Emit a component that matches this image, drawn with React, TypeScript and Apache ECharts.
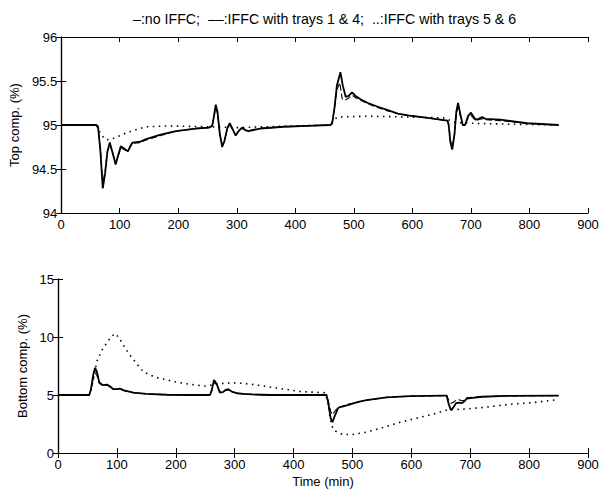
import React, { useEffect, useRef } from "react";
import * as echarts from "echarts";

const titleText = "–:no IFFC;  ––:IFFC with trays 1 & 4;  ..:IFFC with trays 5 & 6";
const xLabel = "Time (min)";
const topYLabel = "Top comp. (%)";
const bottomYLabel = "Bottom comp. (%)";

const topNoIFFC: number[][] = [
  [0, 95], [60, 95], [63, 94.98], [67, 94.7], [71, 94.28], [75, 94.45], [79, 94.7], [83, 94.8], [88, 94.68], [93, 94.55], [97, 94.65], [102, 94.76], [108, 94.73], [114, 94.7], [118, 94.76], [122, 94.8], [135, 94.81], [145, 94.84], [170, 94.89], [196, 94.93], [230, 94.96], [252, 94.97], [258, 94.99], [261, 95.1], [264, 95.23], [267, 95.15], [271, 94.9], [275, 94.75], [279, 94.82], [284, 94.97], [288, 95.02], [293, 94.95], [298, 94.88], [303, 94.93], [309, 94.97], [315, 94.94], [320, 94.93], [340, 94.96], [380, 94.98], [420, 94.99], [460, 95.0], [463, 95.02], [467, 95.2], [471, 95.45], [477, 95.6], [481, 95.45], [486, 95.32], [491, 95.33], [497, 95.37], [503, 95.33], [512, 95.29], [524, 95.25], [540, 95.21], [558, 95.17], [575, 95.13], [592, 95.11], [626, 95.08], [660, 95.05], [662, 95.0], [665, 94.8], [668, 94.72], [672, 94.9], [675, 95.15], [678, 95.25], [682, 95.12], [686, 95.0], [690, 95.0], [695, 95.1], [700, 95.14], [704, 95.1], [708, 95.06], [713, 95.07], [719, 95.09], [725, 95.07], [750, 95.06], [796, 95.02], [850, 95.0],
];
const topTrays14: number[][] = [
  [0, 95], [60, 95], [63, 94.98], [67, 94.72], [71, 94.33], [75, 94.48], [79, 94.7], [83, 94.78], [88, 94.68], [93, 94.57], [97, 94.64], [102, 94.74], [108, 94.72], [114, 94.7], [118, 94.75], [122, 94.79], [135, 94.8], [145, 94.83], [170, 94.88], [196, 94.93], [230, 94.96], [252, 94.97], [258, 94.99], [261, 95.09], [264, 95.2], [267, 95.13], [271, 94.9], [275, 94.77], [279, 94.83], [284, 94.96], [288, 95.0], [293, 94.95], [298, 94.89], [303, 94.93], [309, 94.96], [315, 94.94], [320, 94.94], [340, 94.96], [380, 94.98], [420, 94.99], [460, 95.0], [463, 95.02], [467, 95.2], [471, 95.4], [476, 95.48], [480, 95.3], [484, 95.28], [490, 95.3], [497, 95.34], [503, 95.31], [512, 95.28], [524, 95.24], [540, 95.2], [558, 95.16], [575, 95.13], [592, 95.11], [626, 95.08], [660, 95.05], [662, 95.0], [665, 94.82], [668, 94.75], [672, 94.9], [675, 95.12], [678, 95.2], [682, 95.1], [686, 95.0], [690, 95.0], [695, 95.08], [700, 95.11], [704, 95.08], [708, 95.05], [713, 95.06], [719, 95.07], [725, 95.06], [750, 95.05], [796, 95.02], [850, 95.0],
];
const topTrays56: number[][] = [
  [0, 95], [60, 95], [65, 94.93], [72, 94.86], [77, 94.83], [90, 94.85], [111, 94.91], [130, 94.95], [145, 94.98], [185, 94.99], [250, 94.98], [300, 94.97], [350, 94.98], [400, 94.99], [460, 95.0], [466, 95.06], [472, 95.09], [520, 95.1], [600, 95.09], [655, 95.08], [662, 95.06], [670, 95.03], [700, 95.02], [760, 95.01], [850, 95.0],
];

const bottomNoIFFC: number[][] = [
  [0, 5], [53, 5], [56, 5.5], [60, 6.8], [63, 7.35], [66, 7.0], [70, 6.1], [76, 5.85], [83, 5.9], [88, 5.75], [94, 5.5], [100, 5.5], [105, 5.55], [112, 5.4], [128, 5.2], [150, 5.1], [185, 5.02], [220, 5.0], [258, 5.0], [261, 5.4], [265, 6.3], [269, 6.0], [275, 5.2], [280, 5.25], [285, 5.45], [289, 5.5], [295, 5.3], [304, 5.15], [315, 5.1], [330, 5.05], [360, 5.0], [456, 5.0], [459, 4.3], [463, 3.0], [466, 2.65], [470, 3.2], [476, 3.9], [486, 4.05], [496, 4.2], [510, 4.4], [524, 4.55], [558, 4.8], [598, 4.9], [654, 4.95], [660, 4.95], [663, 4.3], [667, 3.7], [671, 3.9], [676, 4.3], [681, 4.35], [686, 4.3], [690, 4.45], [694, 4.7], [704, 4.75], [720, 4.85], [760, 4.92], [850, 4.95],
];
const bottomTrays14: number[][] = [
  [0, 5], [53, 5], [56, 5.4], [60, 6.5], [63, 6.9], [66, 6.7], [70, 6.0], [76, 5.8], [83, 5.85], [88, 5.7], [94, 5.5], [100, 5.5], [105, 5.5], [112, 5.38], [128, 5.2], [150, 5.1], [185, 5.02], [220, 5.0], [258, 5.0], [261, 5.35], [265, 6.1], [269, 5.9], [275, 5.3], [280, 5.3], [285, 5.4], [289, 5.45], [295, 5.3], [304, 5.15], [315, 5.1], [330, 5.05], [360, 5.0], [456, 5.0], [459, 4.5], [463, 3.6], [466, 3.3], [470, 3.6], [476, 3.95], [486, 4.1], [496, 4.25], [510, 4.4], [524, 4.55], [558, 4.8], [598, 4.9], [654, 4.95], [660, 4.95], [663, 4.6], [667, 4.3], [671, 4.35], [676, 4.55], [681, 4.6], [686, 4.5], [690, 4.55], [694, 4.75], [704, 4.8], [720, 4.85], [760, 4.92], [850, 4.95],
];
const bottomTrays56: number[][] = [
  [0, 5], [53, 5], [58, 5.8], [66, 7.9], [75, 8.9], [83, 9.5], [90, 10.0], [97, 10.3], [104, 9.9], [111, 9.3], [120, 8.6], [128, 8.05], [137, 7.5], [145, 7.0], [157, 6.7], [168, 6.5], [185, 6.3], [202, 6.1], [227, 5.9], [252, 5.75], [264, 5.9], [280, 6.0], [297, 6.05], [315, 6.0], [332, 5.9], [352, 5.75], [372, 5.6], [392, 5.45], [411, 5.3], [430, 5.25], [453, 5.2], [458, 4.5], [462, 3.0], [467, 2.05], [475, 1.75], [484, 1.6], [501, 1.6], [524, 1.8], [552, 2.2], [581, 2.65], [609, 3.0], [637, 3.35], [660, 3.7], [677, 3.75], [694, 3.8], [727, 3.95], [767, 4.2], [807, 4.35], [849, 4.6],
];

const FONT = "Liberation Sans";

export default function App() {
  const ref = useRef<HTMLDivElement>(null);
  useEffect(() => {
    if (!ref.current) return;
    const chart = echarts.init(ref.current, undefined, { renderer: "svg" });
    const axisLine = { show: true, lineStyle: { color: "#000", width: 1.2 } };
    const tick = { show: true, inside: true, length: 5, lineStyle: { color: "#000" } };
    const label = { color: "#000", fontSize: 13, fontFamily: FONT };
    const xBase = (grid: number, pos: string, showLabel: boolean, name?: string) => ({
      type: "value",
      gridIndex: grid,
      position: pos,
      min: 0,
      max: 900,
      interval: 100,
      axisLine,
      axisTick: tick,
      axisLabel: { ...label, show: showLabel, margin: 5 },
      splitLine: { show: false },
      name: name,
      nameLocation: "middle",
      nameGap: 22,
      nameTextStyle: { color: "#000", fontSize: 13, fontFamily: FONT },
    });
    const yBase = (grid: number, pos: string, showLabel: boolean, min: number, max: number, interval: number, name?: string, gap?: number) => ({
      type: "value",
      gridIndex: grid,
      position: pos,
      min,
      max,
      interval,
      axisLine,
      axisTick: tick,
      axisLabel: { ...label, show: showLabel, margin: 4 },
      splitLine: { show: false },
      name: name,
      nameLocation: "middle",
      nameGap: gap,
      nameTextStyle: { color: "#000", fontSize: 13, fontFamily: FONT },
    });
    const solid = { color: "#000", width: 1.8, type: "solid" };
    const dashed = { color: "#000", width: 1.1, type: [6, 3] };
    const dotted = { color: "#000", width: 1.6, type: [1.5, 4.5] };
    const mk = (name: string, data: number[][], ls: any, idx: number) => ({
      type: "line",
      name,
      data,
      xAxisIndex: idx,
      yAxisIndex: idx,
      showSymbol: false,
      symbol: "none",
      lineStyle: ls,
      z: ls === solid ? 3 : 2,
    });
    chart.setOption({
      animation: false,
      backgroundColor: "#fff",
      graphic: [
        {
          type: "text",
          left: 133,
          top: 12,
          style: { text: titleText, fill: "#000", fontSize: 14.2, fontFamily: FONT },
        },
      ],
      grid: [
        { left: 58, right: 14, top: 37, height: 176 },
        { left: 58, right: 14, top: 279, height: 175 },
      ],
      xAxis: [
        xBase(0, "bottom", true),
        xBase(1, "bottom", true, xLabel),
        xBase(0, "top", false),
        xBase(1, "top", false),
      ],
      yAxis: [
        yBase(0, "left", true, 94, 96, 0.5, topYLabel, 33),
        yBase(1, "left", true, 0, 15, 5, bottomYLabel, 19),
        yBase(0, "right", false, 94, 96, 0.5),
        yBase(1, "right", false, 0, 15, 5),
      ],
      series: [
        mk("trays56top", topTrays56, dotted, 0),
        mk("trays14top", topTrays14, dashed, 0),
        mk("noIFFCtop", topNoIFFC, solid, 0),
        mk("trays56bot", bottomTrays56, dotted, 1),
        mk("trays14bot", bottomTrays14, dashed, 1),
        mk("noIFFCbot", bottomNoIFFC, solid, 1),
      ],
    });
    return () => chart.dispose();
  }, []);
  return (
    <div
      ref={ref}
      style={{ position: "fixed", left: 0, top: 0, width: 602, height: 489 }}
    />
  );
}
